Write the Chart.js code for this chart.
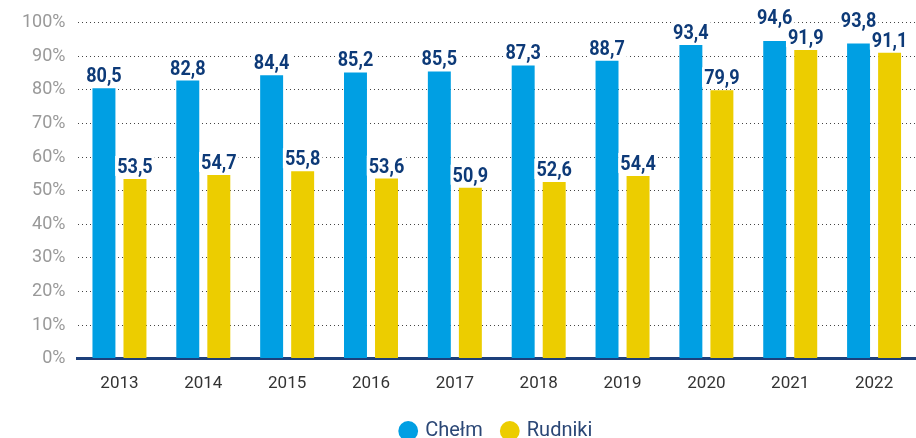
<!DOCTYPE html>
<html>
<head>
<meta charset="utf-8">
<script src="https://cdn.jsdelivr.net/npm/chart.js@4"></script>
<style>
  html, body { margin: 0; padding: 0; background: #fff; }
  #wrap { width: 916px; height: 438px; }
</style>
</head>
<body>
<div id="wrap"><canvas id="chart"></canvas></div>
<script>
const years = ['2013', '2014', '2015', '2016', '2017', '2018', '2019', '2020', '2021', '2022'];
const chelm = [80.5, 82.8, 84.4, 85.2, 85.5, 87.3, 88.7, 93.4, 94.6, 93.8];
const rudniki = [53.5, 54.7, 55.8, 53.6, 50.9, 52.6, 54.4, 79.9, 91.9, 91.1];
const yTicks = [0, 10, 20, 30, 40, 50, 60, 70, 80, 90, 100];

// value labels above bars (condensed bold), white box hides the grid behind
const barLabels = {
    id: 'barLabels',
    afterDatasetsDraw(chart) {
        const ctx = chart.ctx;
        const sx = 0.86;
        const blue = chart.getDatasetMeta(0).data;
        const yellow = chart.getDatasetMeta(1).data;
        ctx.save();
        ctx.font = 'bold 21px Roboto';
        ctx.textAlign = 'center';
        ctx.textBaseline = 'alphabetic';

        const draw = (txt, x, yb) => {
            const w = ctx.measureText(txt).width * sx;
            ctx.fillStyle = '#fff';
            ctx.fillRect(x - w / 2 - 2, yb - 17, w + 4, 20);
            ctx.save();
            ctx.translate(x, yb);
            ctx.scale(sx, 1);
            ctx.fillStyle = '#0d3a78';
            ctx.fillText(txt, 0, 0);
            ctx.restore();
        };
        const fmt = v => v.toFixed(1).replace('.', ',');

        years.forEach((y, j) => {
            const yb1 = yellow[j].y - 6;
            let yb0 = blue[j].y - 6;
            // lift the blue label when it would collide with the yellow one
            if (yb1 - yb0 < 18) yb0 = yb1 - 20;
            draw(fmt(chelm[j]), blue[j].x, yb0);
            draw(fmt(rudniki[j]), yellow[j].x, yb1);
        });
        ctx.restore();
    }
};

new Chart(document.getElementById('chart').getContext('2d'), {
    type: 'bar',
    data: {
        labels: years,
        datasets: [{
            label: 'Chełm',
            data: chelm,
            backgroundColor: '#009fe3',
            categoryPercentage: 0.74,
            barPercentage: 0.74
        }, {
            label: 'Rudniki',
            data: rudniki,
            backgroundColor: '#eccd00',
            categoryPercentage: 0.74,
            barPercentage: 0.74
        }]
    },
    options: {
        responsive: true,
        maintainAspectRatio: false,
        animation: false,
        layout: { padding: { top: 11, right: 0, left: 10, bottom: -13 } },
        scales: {
            x: {
                grid: { display: false },
                border: { color: '#1d3f7a', width: 3 },
                ticks: { color: '#333', font: { family: 'Roboto', size: 17 }, padding: 7 }
            },
            y: {
                min: 0,
                max: 100,
                afterBuildTicks: axis => { axis.ticks = yTicks.map(v => ({ value: v })); },
                grid: {
                    color: ctx => ctx.tick && ctx.tick.value === 0 ? 'rgba(0,0,0,0)' : '#444',
                    lineWidth: 1,
                    drawTicks: false
                },
                border: { display: false, dash: [1, 3] },
                ticks: {
                    color: '#999',
                    font: { family: 'Roboto', size: 18 },
                    padding: 12,
                    callback: v => v + '%'
                }
            }
        },
        plugins: {
            legend: {
                position: 'bottom',
                fullSize: false,
                labels: {
                    usePointStyle: true,
                    pointStyle: 'circle',
                    boxWidth: 14,
                    boxHeight: 14,
                    padding: 20,
                    color: '#2b4776',
                    font: { family: 'Roboto', size: 20 }
                }
            },
            tooltip: { enabled: false }
        }
    },
    plugins: [barLabels]
});
</script>
</body>
</html>
